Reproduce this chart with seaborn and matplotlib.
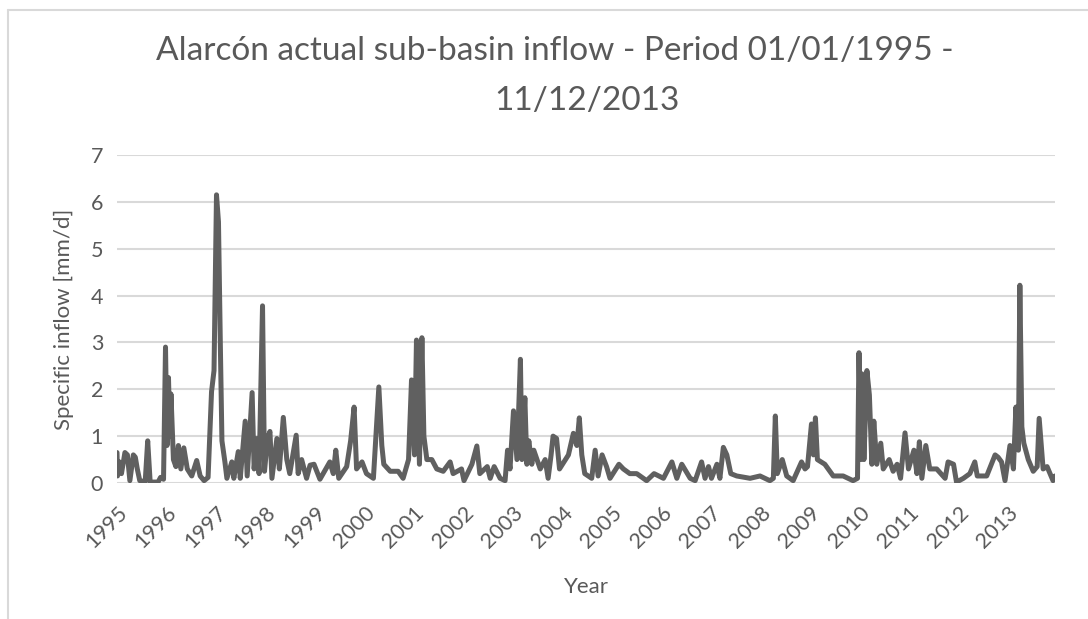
import numpy as np
import pandas as pd
import matplotlib
matplotlib.use("Agg")
import matplotlib.pyplot as plt
import seaborn as sns

# readings taken off the chart: decimal year and specific inflow [mm/d]
years = [
    1995.00, 1995.01, 1995.05, 1995.09, 1995.16, 1995.21, 1995.26, 1995.33, 1995.37, 1995.41,
    1995.46, 1995.57, 1995.62, 1995.67, 1995.83, 1995.88, 1995.94, 1995.98, 1996.01, 1996.04,
    1996.07, 1996.09, 1996.14, 1996.19, 1996.24, 1996.29, 1996.35, 1996.42, 1996.51, 1996.61,
    1996.68, 1996.76, 1996.84, 1996.91, 1996.96, 1997.01, 1997.05, 1997.09, 1997.12, 1997.18,
    1997.22, 1997.32, 1997.36, 1997.45, 1997.49, 1997.59, 1997.63, 1997.73, 1997.77, 1997.83,
    1997.87, 1997.94, 1997.98, 1998.04, 1998.09, 1998.13, 1998.23, 1998.28, 1998.36, 1998.43,
    1998.49, 1998.62, 1998.66, 1998.73, 1998.83, 1998.90, 1998.98, 1999.10, 1999.30, 1999.37,
    1999.42, 1999.48, 1999.64, 1999.72, 1999.79, 1999.84, 1999.95, 2000.04, 2000.18, 2000.29,
    2000.35, 2000.39, 2000.52, 2000.68, 2000.78, 2000.89, 2000.95, 2001.01, 2001.05, 2001.11,
    2001.16, 2001.20, 2001.26, 2001.36, 2001.46, 2001.59, 2001.73, 2001.79, 2001.96, 2002.01,
    2002.17, 2002.27, 2002.33, 2002.48, 2002.54, 2002.62, 2002.74, 2002.84, 2002.89, 2002.94,
    2003.01, 2003.08, 2003.15, 2003.18, 2003.24, 2003.28, 2003.32, 2003.38, 2003.42, 2003.55,
    2003.65, 2003.71, 2003.77, 2003.81, 2003.88, 2003.94, 2004.12, 2004.22, 2004.29, 2004.34,
    2004.39, 2004.45, 2004.59, 2004.66, 2004.72, 2004.80, 2004.89, 2004.96, 2005.14, 2005.23,
    2005.36, 2005.50, 2005.70, 2005.85, 2006.04, 2006.21, 2006.31, 2006.41, 2006.58, 2006.68,
    2006.81, 2006.88, 2006.95, 2007.01, 2007.12, 2007.18, 2007.25, 2007.32, 2007.40, 2007.52,
    2007.79, 2007.99, 2008.19, 2008.26, 2008.30, 2008.34, 2008.44, 2008.53, 2008.66, 2008.83,
    2008.90, 2008.95, 2009.03, 2009.07, 2009.11, 2009.15, 2009.30, 2009.47, 2009.67, 2009.87,
    2009.96, 2009.99, 2010.03, 2010.05, 2010.09, 2010.15, 2010.20, 2010.25, 2010.29, 2010.35,
    2010.43, 2010.48, 2010.60, 2010.68, 2010.76, 2010.83, 2010.92, 2010.99, 2011.10, 2011.16,
    2011.21, 2011.26, 2011.34, 2011.42, 2011.56, 2011.73, 2011.79, 2011.90, 2011.96, 2012.10,
    2012.23, 2012.33, 2012.38, 2012.57, 2012.74, 2012.80, 2012.87, 2012.94, 2013.04, 2013.11,
    2013.16, 2013.21, 2013.24, 2013.28, 2013.32, 2013.41, 2013.51, 2013.59, 2013.63, 2013.71,
    2013.79, 2013.85, 2013.91, 2013.95,
]
flow = [
    0.65, 0.15, 0.45, 0.20, 0.65, 0.60, 0.05, 0.60, 0.55, 0.30,
    0.05, 0.03, 0.90, 0.02, 0.02, 0.12, 0.08, 2.90, 0.80, 2.25,
    1.00, 1.90, 0.50, 0.35, 0.80, 0.30, 0.75, 0.30, 0.15, 0.48,
    0.15, 0.05, 0.12, 1.95, 2.40, 6.15, 5.57, 2.80, 0.90, 0.45,
    0.10, 0.45, 0.10, 0.67, 0.10, 1.32, 0.15, 1.93, 0.30, 0.95,
    0.20, 3.78, 0.25, 0.95, 1.10, 0.10, 0.95, 0.30, 1.40, 0.50,
    0.20, 1.02, 0.20, 0.50, 0.10, 0.38, 0.40, 0.08, 0.45, 0.20,
    0.70, 0.10, 0.35, 0.90, 1.62, 0.30, 0.45, 0.20, 0.10, 2.05,
    0.80, 0.40, 0.25, 0.25, 0.10, 0.50, 2.20, 0.60, 3.05, 0.40,
    3.10, 1.00, 0.50, 0.50, 0.30, 0.25, 0.45, 0.20, 0.30, 0.05,
    0.40, 0.79, 0.20, 0.35, 0.10, 0.35, 0.10, 0.05, 0.70, 0.30,
    1.54, 0.50, 2.64, 0.50, 1.82, 0.40, 0.90, 0.40, 0.70, 0.30,
    0.50, 0.10, 0.60, 1.00, 0.95, 0.30, 0.60, 1.06, 0.80, 1.39,
    0.60, 0.20, 0.10, 0.70, 0.15, 0.60, 0.35, 0.10, 0.40, 0.30,
    0.20, 0.20, 0.05, 0.20, 0.10, 0.45, 0.10, 0.40, 0.10, 0.05,
    0.45, 0.10, 0.35, 0.10, 0.40, 0.10, 0.76, 0.60, 0.20, 0.15,
    0.10, 0.15, 0.05, 0.10, 1.43, 0.20, 0.50, 0.15, 0.05, 0.45,
    0.30, 0.35, 1.26, 0.60, 1.39, 0.50, 0.40, 0.15, 0.15, 0.05,
    0.10, 2.78, 0.50, 2.33, 0.50, 2.40, 1.88, 0.40, 1.32, 0.40,
    0.85, 0.30, 0.50, 0.25, 0.40, 0.10, 1.07, 0.30, 0.70, 0.20,
    0.88, 0.10, 0.80, 0.30, 0.30, 0.10, 0.45, 0.40, 0.02, 0.10,
    0.20, 0.45, 0.15, 0.15, 0.60, 0.55, 0.45, 0.05, 0.80, 0.30,
    1.62, 0.70, 4.22, 1.20, 0.85, 0.50, 0.25, 0.35, 1.38, 0.30,
    0.35, 0.20, 0.05, 0.15,
]
tick_years = list(range(1995, 2014))

df = pd.DataFrame({"Year": years, "Inflow": flow})

sns.set_theme(style="white")
plt.rcParams["font.family"] = ["Lato", "DejaVu Sans"]
grey = "#595959"

fig = plt.figure(figsize=(10.88, 6.19), dpi=100)
ax = fig.add_axes([117 / 1088, 1 - 483 / 619, (1055 - 117) / 1088, (483 - 155) / 619])

sns.lineplot(data=df, x="Year", y="Inflow", ax=ax, color="#606060", linewidth=3.6,
             solid_joinstyle="round", solid_capstyle="round")

ax.set_xlim(1995.0, 2013.95)
ax.set_ylim(0, 7)
ax.set_yticks(range(0, 8))
ax.yaxis.grid(True, color="#d9d9d9", linewidth=1.5)
ax.set_axisbelow(True)
for s in ax.spines.values():
    s.set_visible(False)
ax.set_xticks(tick_years)
ax.set_xticklabels([str(y) for y in tick_years], rotation=45, ha="right",
                   rotation_mode="anchor", fontsize=15.5, color=grey)
ax.tick_params(axis="y", labelsize=15.5, labelcolor=grey, pad=10, length=0)
ax.tick_params(axis="x", pad=14, length=0)
ax.set_xlabel("Year", fontsize=16, color=grey, labelpad=18)
ax.set_ylabel("Specific inflow [mm/d]", fontsize=16, color=grey, labelpad=12)

# title, two centred lines as in the original
fig.text(555 / 1088, 1 - 60 / 619, "Alarcón actual sub-basin inflow - Period 01/01/1995 -",
         ha="center", va="baseline", fontsize=24, color=grey)
fig.text(587 / 1088, 1 - 110 / 619, "11/12/2013",
         ha="center", va="baseline", fontsize=24, color=grey)

# chart-area border (left and top edges are visible)
fig.add_artist(plt.Line2D([8 / 1088, 8 / 1088], [0, 1 - 10 / 619], color="#d9d9d9", linewidth=1.5))
fig.add_artist(plt.Line2D([8 / 1088, 1], [1 - 10 / 619, 1 - 10 / 619], color="#d9d9d9", linewidth=1.5))

fig.savefig("out.png", dpi=100)
